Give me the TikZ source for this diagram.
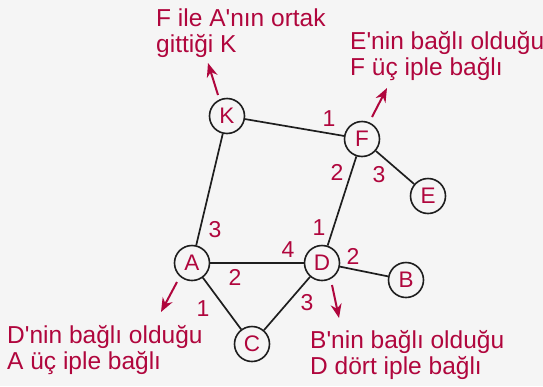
\documentclass[tikz,border=0pt]{standalone}
\usepackage{fontspec}
\newfontfamily\mf{Liberation Sans}
\usetikzlibrary{arrows.meta}
\definecolor{bg}{HTML}{F5F5F5}
\definecolor{crim}{HTML}{B0063D}
\definecolor{ink}{HTML}{1E1E1E}
\begin{document}
\begin{tikzpicture}[x=1pt,y=-1pt,
  vtx/.style={circle,draw=ink,line width=1.6pt,fill=bg,minimum size=35pt,inner sep=0pt,
    text=crim,font=\mf\fontsize{22.5}{22.5}\selectfont},
  edge/.style={draw=ink,line width=1.7pt},
  wlab/.style={text=crim,font=\mf\fontsize{23}{23}\selectfont,inner sep=0pt},
  note/.style={text=crim,font=\mf\fontsize{24.5}{26}\selectfont,align=left,anchor=base west,inner sep=0pt},
  pointer/.style={draw=crim,line width=2pt,-{Stealth[length=14pt,width=11pt]}}]
\fill[bg] (0,0) rectangle (543,386);
\useasboundingbox (0,0) rectangle (543,386);
\coordinate (Kp) at (227,116);
\coordinate (Fp) at (362,139);
\coordinate (Ep) at (428,196);
\coordinate (Ap) at (192,263);
\coordinate (Dp) at (322,263);
\coordinate (Bp) at (406,280);
\coordinate (Cp) at (252,344);
\node[vtx] (K) at (Kp) {K};
\node[vtx] (F) at (Fp) {F};
\node[vtx] (E) at (Ep) {E};
\node[vtx] (A) at (Ap) {A};
\node[vtx] (D) at (Dp) {D};
\node[vtx] (B) at (Bp) {B};
\node[vtx] (C) at (Cp) {C};
\draw[edge] (K) -- (F);
\draw[edge] (K) -- (A);
\draw[edge] (F) -- (D);
\draw[edge] (F) -- (E);
\draw[edge] (A) -- (D);
\draw[edge] (A) -- (C);
\draw[edge] (D) -- (C);
\draw[edge] (D) -- (B);
% weights
\node[wlab] (w1) at (329,119) {1};
\node[wlab] (w2) at (337,172) {2};
\node[wlab] (w3) at (379,175) {3};
\node[wlab] (w4) at (215,230) {3};
\node[wlab] (w5) at (319,228) {1};
\node[wlab] (w6) at (288,250) {4};
\node[wlab] (w7) at (235,277) {2};
\node[wlab] (w8) at (353,256) {2};
\node[wlab] (w9) at (203,309) {1};
\node[wlab] (w10) at (307,303) {3};
% notes (anchor = baseline of last line)
\node[note] (nK) at (156,52) {F ile A'nın ortak\\gittiği K};
\node[note] (nF) at (350,75) {E'nin bağlı olduğu\\F üç iple bağlı};
\node[note] (nA) at (7,369) {D'nin bağlı olduğu\\A üç iple bağlı};
\node[note] (nD) at (310,374) {B'nin bağlı olduğu\\D dört iple bağlı};
% pointers
\coordinate (k0) at (218,95); \coordinate (k1) at (208,63);
\coordinate (f0) at (372,117); \coordinate (f1) at (387,88);
\coordinate (a0) at (177,282); \coordinate (a1) at (161,312);
\coordinate (d0) at (332,285); \coordinate (d1) at (339,318);
\draw[pointer] (k0) -- (k1);
\draw[pointer] (f0) -- (f1);
\draw[pointer] (a0) -- (a1);
\draw[pointer] (d0) -- (d1);
\end{tikzpicture}
\end{document}
